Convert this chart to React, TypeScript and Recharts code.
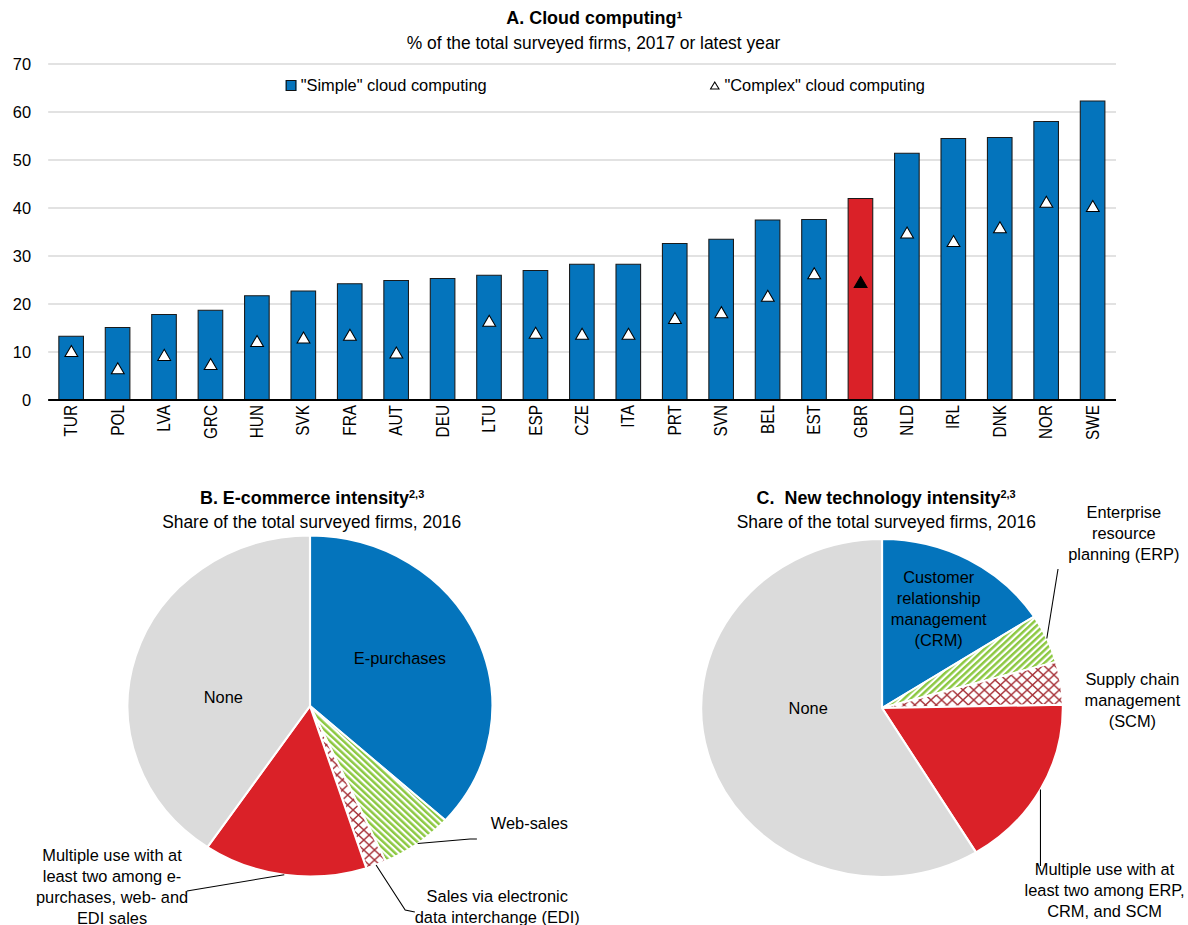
import React from 'react';
import {
  ComposedChart,
  Bar,
  Line,
  XAxis,
  YAxis,
  CartesianGrid,
  Legend,
  Cell,
  PieChart,
  Pie,
} from 'recharts';

// ---------- Panel A: cloud computing ----------
const countries = [
  'TUR', 'POL', 'LVA', 'GRC', 'HUN', 'SVK', 'FRA', 'AUT', 'DEU', 'LTU', 'ESP', 'CZE',
  'ITA', 'PRT', 'SVN', 'BEL', 'EST', 'GBR', 'NLD', 'IRL', 'DNK', 'NOR', 'SWE',
];
const simpleCloud = [
  13.3, 15.1, 17.8, 18.7, 21.7, 22.7, 24.2, 24.9, 25.3, 26.0, 27.0, 28.3,
  28.3, 32.6, 33.5, 37.5, 37.6, 42.0, 51.4, 54.5, 54.7, 58.0, 62.3,
];
const complexCloud: (number | null)[] = [
  10.2, 6.6, 9.4, 7.5, 12.3, 13.0, 13.6, 9.9, null, 16.5, 14.0, 13.8,
  13.8, 17.1, 18.3, 21.7, 26.4, 24.6, 34.9, 33.1, 36.0, 41.3, 40.4,
];
const yTicks = [0, 10, 20, 30, 40, 50, 60, 70];
const highlightCountry = 'GBR';

// ---------- Panel B: e-commerce intensity ----------
const ecomNames = [
  'E-purchases',
  'Web-sales',
  'Sales via electronic data interchange (EDI)',
  'Multiple use with at least two among e-purchases, web- and EDI sales',
  'None',
];
const ecomShares = [36.7, 6.5, 1.8, 14.5, 40.5];
const ecomLabelLines = [
  ['E-purchases'],
  ['Web-sales'],
  ['Sales via electronic', 'data interchange (EDI)'],
  ['Multiple use with at', 'least two among e-', 'purchases, web- and', 'EDI sales'],
  ['None'],
];

// ---------- Panel C: new technology intensity ----------
const techNames = [
  'Customer relationship management (CRM)',
  'Enterprise resource planning (ERP)',
  'Supply chain management (SCM)',
  'Multiple use with at least two among ERP, CRM, and SCM',
  'None',
];
const techShares = [15.9, 4.7, 4.1, 16.6, 58.7];
const techLabelLines = [
  ['Customer', 'relationship', 'management', '(CRM)'],
  ['Enterprise', 'resource', 'planning (ERP)'],
  ['Supply chain', 'management', '(SCM)'],
  ['Multiple use with at', 'least two among ERP,', 'CRM, and SCM'],
  ['None'],
];

// ---------- styling ----------
const FONT = "'Liberation Sans',Arial,sans-serif";
const BLUE = '#0474BC';
const RED = '#DA2128';
const GREY = '#DBDBDB';
const GREEN = '#8CC841';
const MAROON = '#A8353C';
const STRETCH = 1.07; // whole figure is drawn slightly wide
const NX = 0.93; // condensed lettering
const BASE_W = 1110;
const FS = 16.5;
const LINE_H = 21;

const barData = countries.map((c, i) => ({
  country: c,
  simple: simpleCloud[i],
  complex: complexCloud[i],
}));

const ecomData = ecomNames.map((n, i) => ({ name: n, value: ecomShares[i] }));
const techData = techNames.map((n, i) => ({ name: n, value: techShares[i] }));

const ecomFills = [BLUE, 'url(#stripeDown)', 'url(#lattice)', RED, GREY];
const techFills = [BLUE, 'url(#stripeUp)', 'url(#lattice)', RED, GREY];

const narrow = (x: number, y: number) => `translate(${x} ${y}) scale(${NX} 1) translate(${-x} ${-y})`;

type LeaderPt = { dx?: number; dy: number };
type LabelPos = { dx: number; dy: number; anchor: 'start' | 'middle' | 'end'; leader?: LeaderPt[] };

// label placement relative to each pie centre
const ecomLabelPos: LabelPos[] = [
  { dx: 84, dy: -48, anchor: 'middle' },
  { dx: 169, dy: 117, anchor: 'start', leader: [{ dx: 149.6, dy: 133 }, { dx: 156, dy: 133 }] },
  { dx: 175, dy: 190, anchor: 'middle', leader: [{ dx: 89, dy: 204 }, { dx: 98, dy: 206 }] },
  { dx: -185, dy: 149, anchor: 'middle', leader: [{ dx: -115, dy: 185 }] },
  { dx: -81, dy: -9, anchor: 'middle' },
];
const techLabelPos: LabelPos[] = [
  { dx: 53, dy: -131, anchor: 'middle' },
  { dx: 226, dy: -196, anchor: 'middle', leader: [{ dx: 164.5, dy: -139 }] },
  { dx: 234, dy: -29, anchor: 'middle' },
  { dx: 208, dy: 161, anchor: 'middle', leader: [{ dy: 158 }] },
  { dx: -69, dy: 0, anchor: 'middle' },
];

const makePieLabel = (lines: string[][], layout: LabelPos[]) => (props: any) => {
  const { cx, cy, midAngle, outerRadius, index } = props;
  const pos = layout[index];
  const rad = Math.PI / 180;
  const ex = cx + outerRadius * Math.cos(-midAngle * rad);
  const ey = cy + outerRadius * Math.sin(-midAngle * rad);
  let leader: string | null = null;
  if (pos.leader) {
    const pts = [[ex, ey], ...pos.leader.map((p) => [p.dx === undefined ? ex : cx + p.dx, cy + p.dy])];
    leader = pts.map((p) => `${p[0]},${p[1]}`).join(' ');
  }
  const tx = cx + pos.dx;
  const ty = cy + pos.dy;
  return (
    <g key={`label-${index}`}>
      {leader && <polyline points={leader} fill="none" stroke="#000" strokeWidth={1} />}
      <text
        x={tx}
        y={ty}
        transform={narrow(tx, ty)}
        textAnchor={pos.anchor}
        dominantBaseline="central"
        fontFamily={FONT}
        fontSize={FS}
        fill="#000"
      >
        {lines[index].map((t, i) => (
          <tspan key={i} x={tx} dy={i === 0 ? 0 : LINE_H}>
            {t}
          </tspan>
        ))}
      </text>
    </g>
  );
};

const RotatedTick = (props: any) => {
  const { x, y, payload } = props;
  return (
    <text
      x={x}
      y={y}
      transform={`translate(${x} ${y}) rotate(-90) scale(${NX} 1) translate(${-x} ${-y})`}
      textAnchor="end"
      dominantBaseline="central"
      fontFamily={FONT}
      fontSize={FS}
      fill="#000"
    >
      {payload.value}
    </text>
  );
};

const ValueTick = (props: any) => {
  const { x, y, payload, textAnchor } = props;
  return (
    <text
      x={x}
      y={y}
      transform={narrow(x, y)}
      textAnchor={textAnchor}
      dominantBaseline="central"
      fontFamily={FONT}
      fontSize={FS}
      fill="#000"
    >
      {payload.value}
    </text>
  );
};

const Triangle = (props: any) => {
  const { cx, cy, payload, index } = props;
  if (cx == null || cy == null || payload?.complex == null) return <g key={`tri-${index}`} />;
  const hw = 6;
  const h = 11;
  const filled = payload.country === highlightCountry;
  return (
    <polygon
      key={`tri-${index}`}
      points={`${cx},${cy - h / 2} ${cx - hw},${cy + h / 2} ${cx + hw},${cy + h / 2}`}
      fill={filled ? '#000' : '#fff'}
      stroke="#000"
      strokeWidth={1}
    />
  );
};

const LEGEND_X: Record<string, number> = { square: 267, triangle: 663 };

const LegendContent = (props: any) => {
  const items = props.payload || [];
  return (
    <div style={{ position: 'relative', height: 24, width: BASE_W }}>
      {items.map((it: any, i: number) => (
        <div
          key={i}
          style={{
            position: 'absolute',
            left: LEGEND_X[it.type] ?? 0,
            top: 0,
            height: 24,
            display: 'flex',
            alignItems: 'center',
            fontFamily: FONT,
            fontSize: FS,
            color: '#000',
            whiteSpace: 'nowrap',
          }}
        >
          {it.type === 'triangle' ? (
            <svg width={10} height={9} style={{ marginRight: 4 }}>
              <polygon points="5,1 1,8 9,8" fill="#fff" stroke="#000" strokeWidth={1} />
            </svg>
          ) : (
            <span
              style={{
                display: 'inline-block',
                width: 9.5,
                height: 11,
                background: BLUE,
                border: '1px solid #111',
                boxSizing: 'border-box',
                marginRight: 4,
              }}
            />
          )}
          <span style={{ display: 'inline-block', transform: `scaleX(${NX})`, transformOrigin: '0 50%' }}>
            {it.value}
          </span>
        </div>
      ))}
    </div>
  );
};

const Title = ({ cx, top, bold, children }: { cx: number; top: number; bold?: boolean; children: React.ReactNode }) => (
  <div
    style={{
      position: 'absolute',
      left: cx - 300,
      width: 600,
      top,
      height: 24,
      lineHeight: '24px',
      textAlign: 'center',
      fontFamily: FONT,
      fontSize: bold ? 18 : 17.5,
      fontWeight: bold ? 700 : 400,
      color: '#000',
      whiteSpace: 'nowrap',
    }}
  >
    <span style={{ display: 'inline-block', transform: `scaleX(${NX})`, transformOrigin: '50% 50%' }}>{children}</span>
  </div>
);

const supStyle: React.CSSProperties = { fontSize: 11, verticalAlign: 'top', lineHeight: '16px' };

export default function App() {
  return (
    <div
      style={{
        position: 'absolute',
        left: 0,
        top: 0,
        width: BASE_W,
        height: 925,
        transform: `scaleX(${STRETCH})`,
        transformOrigin: '0 0',
        background: '#fff',
        fontFamily: FONT,
      }}
    >
      <svg width={0} height={0} style={{ position: 'absolute' }}>
        <defs>
          <pattern id="stripeDown" width={4.5} height={4.5} patternUnits="userSpaceOnUse" patternTransform="rotate(-45)">
            <rect width={4.5} height={4.5} fill="#fff" />
            <rect width={2.4} height={4.5} fill={GREEN} />
          </pattern>
          <pattern id="stripeUp" width={4.5} height={4.5} patternUnits="userSpaceOnUse" patternTransform="rotate(45)">
            <rect width={4.5} height={4.5} fill="#fff" />
            <rect width={2.4} height={4.5} fill={GREEN} />
          </pattern>
          <pattern id="lattice" width={10} height={10} patternUnits="userSpaceOnUse">
            <rect width={10} height={10} fill="#fff" />
            <path d="M0 0 L10 10 M10 0 L0 10" stroke={MAROON} strokeWidth={1.4} />
          </pattern>
        </defs>
      </svg>

      <Title cx={BASE_W / 2} top={6} bold>
        A. Cloud computing¹
      </Title>
      <Title cx={BASE_W / 2} top={31}>
        % of the total surveyed firms, 2017 or latest year
      </Title>

      <div style={{ position: 'absolute', left: 0, top: 0 }}>
        <ComposedChart width={BASE_W} height={460} data={barData} margin={{ top: 64, right: 0, bottom: 0, left: 0 }}>
          <CartesianGrid yAxisId="left" vertical={false} stroke="#D9D9D9" strokeWidth={1.6} />
          <XAxis
            dataKey="country"
            height={60}
            interval={0}
            tickLine={false}
            tickSize={0}
            tickMargin={5}
            axisLine={{ stroke: '#000', strokeWidth: 2 }}
            tick={<RotatedTick />}
          />
          <YAxis
            yAxisId="left"
            orientation="left"
            width={45}
            domain={[0, 70]}
            ticks={yTicks}
            axisLine={false}
            tickLine={false}
            tickSize={0}
            tickMargin={16}
            tick={<ValueTick />}
          />
          <YAxis
            yAxisId="right"
            orientation="right"
            width={67}
            domain={[0, 70]}
            ticks={yTicks}
            axisLine={false}
            tickLine={false}
            tickSize={0}
            tickMargin={10}
            tick={<ValueTick />}
          />
          <Legend
            verticalAlign="middle"
            align="center"
            layout="horizontal"
            wrapperStyle={{ top: 73, left: 0, width: BASE_W }}
            content={<LegendContent />}
          />
          <Bar
            yAxisId="left"
            dataKey="simple"
            name={'"Simple" cloud computing'}
            fill={BLUE}
            stroke="#1a1a1a"
            strokeWidth={1}
            barSize={23}
            legendType="square"
            isAnimationActive={false}
          >
            {barData.map((d) => (
              <Cell key={d.country} fill={d.country === highlightCountry ? RED : BLUE} />
            ))}
          </Bar>
          <Line
            yAxisId="left"
            dataKey="complex"
            name={'"Complex" cloud computing'}
            stroke="none"
            legendType="triangle"
            dot={Triangle}
            activeDot={false}
            isAnimationActive={false}
          />
        </ComposedChart>
      </div>

      <Title cx={291.7} top={486} bold>
        B. E-commerce intensity<span style={supStyle}>2,3</span>
      </Title>
      <Title cx={291.7} top={510}>
        Share of the total surveyed firms, 2016
      </Title>
      <Title cx={828} top={486} bold>
        C.{'\u00A0\u00A0'}New technology intensity<span style={supStyle}>2,3</span>
      </Title>
      <Title cx={828} top={510}>
        Share of the total surveyed firms, 2016
      </Title>

      <div style={{ position: 'absolute', left: 0, top: 460 }}>
        <PieChart width={BASE_W} height={465} margin={{ top: 0, right: 0, bottom: 0, left: 0 }}>
          <Pie
            data={ecomData}
            dataKey="value"
            nameKey="name"
            cx={289.7}
            cy={246}
            outerRadius={170.5}
            startAngle={90}
            endAngle={-270}
            stroke="#fff"
            strokeWidth={2}
            labelLine={false}
            label={makePieLabel(ecomLabelLines, ecomLabelPos)}
            isAnimationActive={false}
          >
            {ecomData.map((d, i) => (
              <Cell key={d.name} fill={ecomFills[i]} />
            ))}
          </Pie>
          <Pie
            data={techData}
            dataKey="value"
            nameKey="name"
            cx={824.3}
            cy={248}
            outerRadius={169}
            startAngle={90}
            endAngle={-270}
            stroke="#fff"
            strokeWidth={2}
            labelLine={false}
            label={makePieLabel(techLabelLines, techLabelPos)}
            isAnimationActive={false}
          >
            {techData.map((d, i) => (
              <Cell key={d.name} fill={techFills[i]} />
            ))}
          </Pie>
        </PieChart>
      </div>
    </div>
  );
}
